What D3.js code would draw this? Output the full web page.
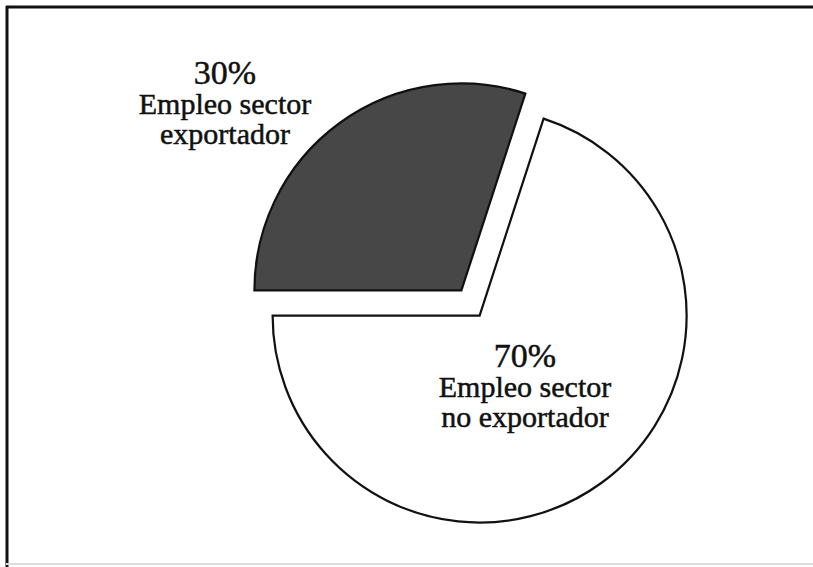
<!DOCTYPE html>
<html><head><meta charset="utf-8">
<script src="https://cdn.jsdelivr.net/npm/d3@7"></script>
<style>html,body{margin:0;padding:0;background:#fff;overflow:hidden}</style>
</head><body>
<script>
const categories = ["Empleo sector exportador", "Empleo sector no exportador"];
const values = [30, 70];
const percentLabels = ["30%", "70%"];
const labelLines = [["Empleo sector", "exportador"], ["Empleo sector", "no exportador"]];
const colors = ["#474747", "#ffffff"];

const W = 813, H = 567;
const svg = d3.select("body").append("svg").attr("width", W).attr("height", H);

// frame
svg.append("line").attr("x1", 6).attr("y1", 7).attr("x2", W).attr("y2", 7).attr("stroke", "#111").attr("stroke-width", 3);
svg.append("line").attr("x1", 7).attr("y1", 6).attr("x2", 7).attr("y2", H).attr("stroke", "#111").attr("stroke-width", 3);
svg.append("line").attr("x1", 6).attr("y1", 564).attr("x2", W).attr("y2", 564).attr("stroke", "#ddd").attr("stroke-width", 2);

const cx = 470.5, cy = 303, r = 207, explode = 15.5;
const pie = d3.pie().sort(null).startAngle(-Math.PI / 2).endAngle(1.5 * Math.PI);
const arcs = pie(values);
const arc = d3.arc().innerRadius(0).outerRadius(r);

const g = svg.append("g").attr("transform", `translate(${cx},${cy})`);
g.selectAll("path").data(arcs).join("path")
  .attr("d", arc)
  .attr("fill", (d, i) => colors[i])
  .attr("stroke", "#111")
  .attr("stroke-width", 2.2)
  .attr("stroke-linejoin", "miter")
  .attr("transform", d => {
    const m = (d.startAngle + d.endAngle) / 2;
    return `translate(${explode * Math.sin(m)},${-explode * Math.cos(m)})`;
  });

// labels (one text element per slice, lines as tspans)
const labelPos = [[225, 84], [525, 367]];
const font = "'Liberation Serif','Times New Roman',serif";
labelPos.forEach((p, i) => {
  const t = svg.append("text").attr("x", p[0]).attr("y", p[1]).attr("text-anchor", "middle")
    .attr("font-family", font).attr("fill", "#111").attr("stroke", "#111").attr("stroke-width", 0.5);
  t.append("tspan").attr("x", p[0]).attr("y", p[1]).attr("font-size", 34).text(percentLabels[i]);
  labelLines[i].forEach((s, j) => {
    t.append("tspan").attr("x", p[0]).attr("y", p[1] + 30 * (j + 1)).attr("font-size", 30).text(s);
  });
});
</script>
</body></html>
